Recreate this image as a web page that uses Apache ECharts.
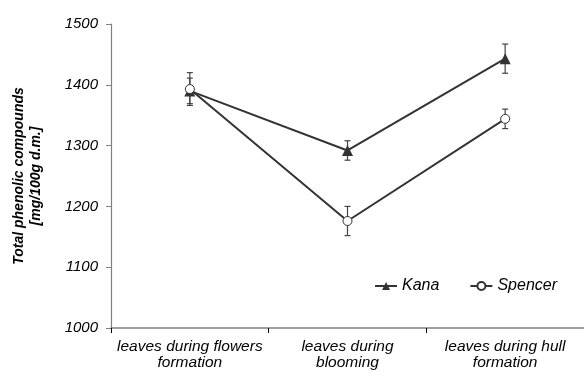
<!DOCTYPE html>
<html>
<head>
<meta charset="utf-8">
<script src="https://cdn.jsdelivr.net/npm/echarts@6/dist/echarts.min.js"></script>
<style>
  html, body { margin: 0; padding: 0; background: #fff; }
  #chart { width: 584px; height: 378px; }
</style>
</head>
<body>
<div id="chart"></div>
<script>
// Sampling stages
const categories = [
  'leaves during flowers\nformation',
  'leaves during\nblooming',
  'leaves during hull\nformation'
];
// Mean total phenolic content and standard deviation per cultivar
const kana = [1390, 1292, 1443];
const kanaErr = [21, 16, 24];
const spencer = [1393, 1176, 1344];
const spencerErr = [27, 24, 16];
const yTicks = { min: 1000, max: 1500, step: 100 };

const ink = '#333333';
const axisGrey = '#808080';
const font = '"Liberation Sans", Arial, sans-serif';

function errorSeries(name, means, errs) {
  return {
    type: 'custom',
    name: name + ' SD',
    z: 1,
    silent: true,
    data: means.map((m, i) => [i, m - errs[i], m + errs[i]]),
    renderItem: function (params, api) {
      const lo = api.coord([api.value(0), api.value(1)]);
      const hi = api.coord([api.value(0), api.value(2)]);
      const cap = 3;
      const style = { stroke: '#444', lineWidth: 1.2 };
      return {
        type: 'group',
        children: [
          { type: 'line', shape: { x1: lo[0], y1: lo[1], x2: hi[0], y2: hi[1] }, style },
          { type: 'line', shape: { x1: hi[0] - cap, y1: hi[1], x2: hi[0] + cap, y2: hi[1] }, style },
          { type: 'line', shape: { x1: lo[0] - cap, y1: lo[1], x2: lo[0] + cap, y2: lo[1] }, style }
        ]
      };
    }
  };
}

const chart = echarts.init(document.getElementById('chart'), null, { renderer: 'canvas' });
chart.setOption({
  animation: false,
  backgroundColor: '#ffffff',
  textStyle: { fontFamily: font },
  grid: { left: 111, right: 0, top: 24, bottom: 50, containLabel: false, outerBoundsMode: 'none' },
  legend: {
    right: 22,
    top: 273,
    itemGap: 30,
    itemWidth: 22,
    itemHeight: 10,
    textStyle: { fontStyle: 'italic', fontSize: 16, color: '#000', fontFamily: font },
    data: ['Kana', 'Spencer']
  },
  xAxis: {
    type: 'category',
    data: categories,
    boundaryGap: true,
    axisLine: { lineStyle: { color: axisGrey, width: 1.5 } },
    axisTick: { show: true, length: 5, lineStyle: { color: '#000', width: 1 } },
    axisLabel: {
      fontStyle: 'italic', fontSize: 15.5, color: '#000', fontFamily: font,
      margin: 11, lineHeight: 16, interval: 0
    }
  },
  yAxis: {
    type: 'value',
    min: yTicks.min,
    max: yTicks.max,
    interval: yTicks.step,
    name: 'Total phenolic compounds\n[mg/100g d.m.]',
    nameLocation: 'middle',
    nameGap: 66,
    nameRotate: 90,
    nameTextStyle: { fontStyle: 'italic', fontWeight: 'bold', fontSize: 14, color: '#000', fontFamily: font, lineHeight: 17 },
    splitLine: { show: false },
    axisLine: { show: true, lineStyle: { color: axisGrey, width: 1.2 } },
    axisTick: { show: true, length: 5, lineStyle: { color: axisGrey } },
    axisLabel: {
      fontStyle: 'italic', fontSize: 15, color: '#000', fontFamily: font, margin: 13,
      formatter: v => String(v)
    }
  },
  series: [
    errorSeries('Kana', kana, kanaErr),
    errorSeries('Spencer', spencer, spencerErr),
    {
      name: 'Kana',
      type: 'line',
      data: kana,
      z: 3,
      symbol: 'triangle',
      symbolSize: 11,
      lineStyle: { color: ink, width: 2 },
      itemStyle: { color: ink, borderWidth: 0 }
    },
    {
      name: 'Spencer',
      type: 'line',
      data: spencer,
      z: 3,
      symbol: 'circle',
      symbolSize: 9,
      lineStyle: { color: ink, width: 2 },
      itemStyle: { color: '#ffffff', borderColor: ink, borderWidth: 1 }
    }
  ]
});
</script>
</body>
</html>
